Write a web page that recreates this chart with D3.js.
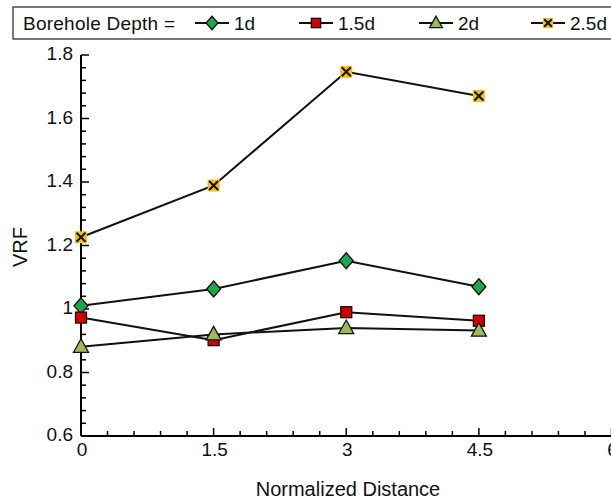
<!DOCTYPE html>
<html><head><meta charset="utf-8">
<script src="https://cdn.jsdelivr.net/npm/d3@7"></script>
<style>body{margin:0;background:#fff}svg{display:block;font-family:"Liberation Sans",Arial,sans-serif}</style>
</head><body>
<svg id="c" width="611" height="501"></svg>
<script>
const xValues = [0, 1.5, 3, 4.5];
const seriesNames = ["1d", "1.5d", "2d", "2.5d"];
const vrf1d  = [1.01, 1.063, 1.152, 1.07];
const vrf15d = [0.973, 0.902, 0.99, 0.963];
const vrf2d  = [0.881, 0.92, 0.94, 0.932];
const vrf25d = [1.226, 1.389, 1.747, 1.671];
const xTicks = [0, 1.5, 3, 4.5, 6];
const yTicks = [0.6, 0.8, 1, 1.2, 1.4, 1.6, 1.8];

const series = [
  {name: seriesNames[0], values: vrf1d, shape: "diamond", color: "#1ea64b"},
  {name: seriesNames[1], values: vrf15d, shape: "square", color: "#d40000"},
  {name: seriesNames[2], values: vrf2d, shape: "triangle", color: "#9bbb59"},
  {name: seriesNames[3], values: vrf25d, shape: "cross", color: "#f7c10f"}
];

const FS = 19;
const svg = d3.select("#c");
const x = d3.scaleLinear().domain([0, 6]).range([81, 611.5]);
const y = d3.scaleLinear().domain([0.6, 1.8]).range([436, 55]);

// axes
const xAxis = svg.append("g").attr("transform", "translate(0,436)");
xAxis.append("line").attr("x1", x(0)).attr("x2", x(6)).attr("stroke", "#000").attr("stroke-width", 2);
d3.range(0, 6.01, 0.3).forEach(v => {
  const major = xTicks.some(t => Math.abs(t - v) < 1e-6);
  xAxis.append("line").attr("x1", x(v)).attr("x2", x(v)).attr("y1", 0).attr("y2", major ? -8 : -5)
    .attr("stroke", "#000").attr("stroke-width", 1.5);
});
xTicks.forEach(t => {
  xAxis.append("text").attr("x", x(t) + 1).attr("y", 20).attr("text-anchor", "middle")
    .attr("font-size", FS).attr("fill", "#111").text(d3.format("~g")(t));
});

const yAxis = svg.append("g").attr("transform", "translate(81,0)");
yAxis.append("line").attr("y1", y(0.6)).attr("y2", y(1.8)).attr("stroke", "#000").attr("stroke-width", 2);
d3.range(0, 31).forEach(i => {
  const v = 0.6 + i * 0.04;
  const major = i % 5 === 0;
  yAxis.append("line").attr("x1", 0).attr("x2", major ? 8 : 5).attr("y1", y(v)).attr("y2", y(v))
    .attr("stroke", "#000").attr("stroke-width", 1.5);
});
yTicks.forEach(t => {
  yAxis.append("text").attr("x", -8).attr("y", y(t) + 5).attr("text-anchor", "end")
    .attr("font-size", FS).attr("fill", "#111").text(d3.format("~g")(t));
});

svg.append("text").attr("transform", "translate(27,247) rotate(-90)").attr("text-anchor", "middle")
  .attr("font-size", 20).attr("fill", "#111").text("VRF");
svg.append("text").attr("x", 348).attr("y", 496).attr("text-anchor", "middle")
  .attr("font-size", 20).attr("fill", "#111").text("Normalized Distance");

function drawMarker(g, shape, color, cx, cy, k = 1) {
  if (shape === "diamond") {
    g.append("path").attr("d", `M${cx},${cy - 8 * k}L${cx + 7 * k},${cy}L${cx},${cy + 8 * k}L${cx - 7 * k},${cy}Z`)
      .attr("fill", color).attr("stroke", "#111").attr("stroke-width", 1.3);
  } else if (shape === "square") {
    g.append("rect").attr("x", cx - 5.5 * k).attr("y", cy - 5.5 * k).attr("width", 11 * k).attr("height", 11 * k)
      .attr("fill", color).attr("stroke", "#111").attr("stroke-width", 1.3);
  } else if (shape === "triangle") {
    g.append("path").attr("d", `M${cx},${cy - 8 * k}L${cx + 7.5 * k},${cy + 5.5 * k}L${cx - 7.5 * k},${cy + 5.5 * k}Z`)
      .attr("fill", color).attr("stroke", "#111").attr("stroke-width", 1.3);
  } else {
    g.append("rect").attr("x", cx - 6 * k).attr("y", cy - 6 * k).attr("width", 12 * k).attr("height", 12 * k)
      .attr("fill", color);
    const a = 4.5 * k;
    g.append("path").attr("d", `M${cx - a},${cy - a}L${cx + a},${cy + a}M${cx + a},${cy - a}L${cx - a},${cy + a}`)
      .attr("stroke", "#111").attr("stroke-width", 2);
  }
}

const line = d3.line().x((d, i) => x(xValues[i])).y(d => y(d));
series.forEach(s => {
  svg.append("path").attr("d", line(s.values)).attr("fill", "none").attr("stroke", "#111").attr("stroke-width", 2);
});
series.forEach(s => {
  const g = svg.append("g");
  s.values.forEach((v, i) => drawMarker(g, s.shape, s.color, x(xValues[i]), y(v)));
});

// legend
const lg = svg.append("g");
lg.append("rect").attr("x", 13).attr("y", 7).attr("width", 610).attr("height", 32)
  .attr("fill", "#fff").attr("stroke", "#333").attr("stroke-width", 1.3);
lg.append("text").attr("x", 23).attr("y", 30).attr("font-size", FS).attr("fill", "#111")
  .attr("textLength", 152).text("Borehole Depth =");
const legX = [212, 316, 436, 548];
series.forEach((s, i) => {
  const cx = legX[i];
  lg.append("line").attr("x1", cx - 17).attr("x2", cx + 17).attr("y1", 23).attr("y2", 23)
    .attr("stroke", "#111").attr("stroke-width", 2);
  drawMarker(lg, s.shape, s.color, cx, 23, 0.85);
  lg.append("text").attr("x", cx + 22).attr("y", 30).attr("font-size", FS).attr("fill", "#111").text(s.name);
});
</script>
</body></html>
